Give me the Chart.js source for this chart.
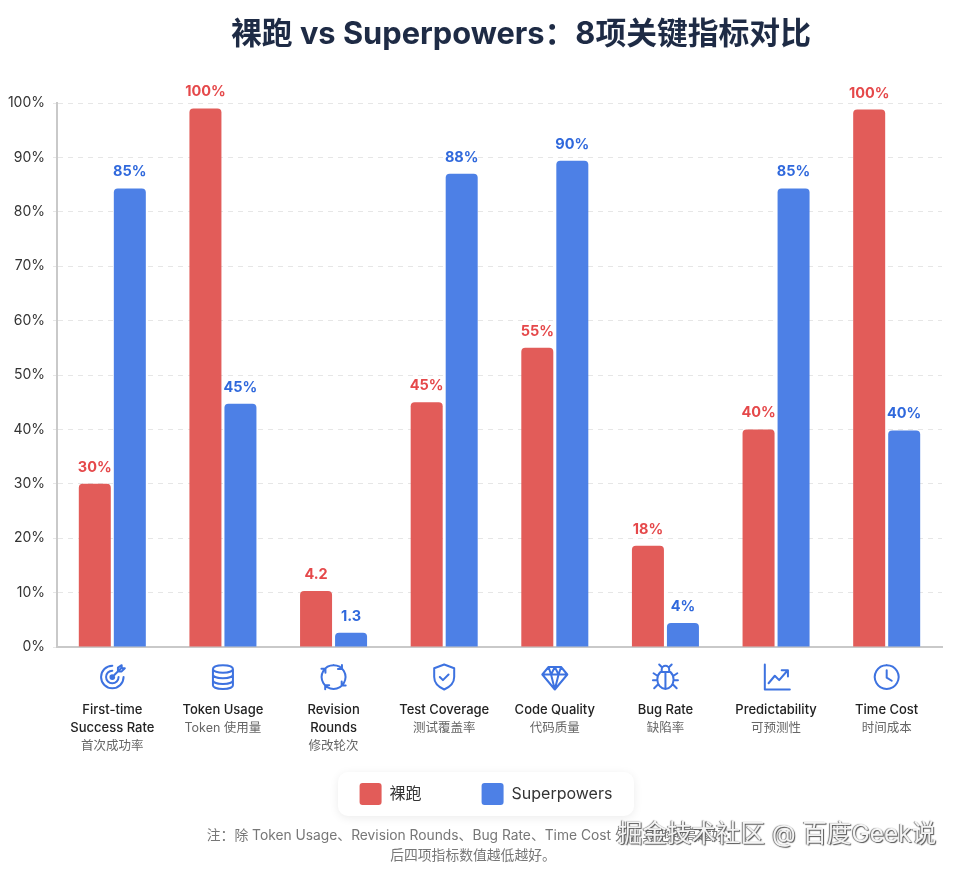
<!DOCTYPE html>
<html>
<head>
<meta charset="utf-8">
<script src="https://cdn.jsdelivr.net/npm/chart.js@4"></script>
<style>
  html, body { margin: 0; padding: 0; background: #fff; }
  #wrap { position: relative; width: 960px; height: 872px; overflow: hidden; font-family: Inter, "Noto Sans CJK SC", sans-serif; }
  canvas { position: absolute; left: 0; top: 0; }
  h1 { position: absolute; left: 0; width: 1042px; top: 13px; margin: 0; text-align: center; font-size: 30.8px; line-height: 40px; font-weight: 700; color: #1e2b45; }
  #note { position: absolute; left: 0; width: 946px; top: 825px; text-align: center; font-size: 13.8px; line-height: 20px; color: #777; }
  #mark { position: absolute; left: 618px; top: 817px; font-size: 24.5px; line-height: 32px; color: #f4f4f4; text-shadow: 1px 1px 1px #555, -1px 0 1px #777; white-space: nowrap; }
</style>
</head>
<body>
<div id="wrap">
  <canvas id="chart" width="960" height="872"></canvas>
  <h1>裸跑 vs Superpowers：8项关键指标对比</h1>
  <div id="note">注：除 Token Usage、Revision Rounds、Bug Rate、Time Cost 外，其他越高越好；<br>后四项指标数值越低越好。</div>
  <div id="mark">掘金技术社区 @ 百度Geek说</div>
</div>
<script>
const categoriesEn = [
    ['First-time', 'Success Rate'],
    ['Token Usage'],
    ['Revision', 'Rounds'],
    ['Test Coverage'],
    ['Code Quality'],
    ['Bug Rate'],
    ['Predictability'],
    ['Time Cost']
];
const categoriesZh = ['首次成功率', 'Token 使用量', '修改轮次', '测试覆盖率', '代码质量', '缺陷率', '可预测性', '时间成本'];

// bar heights as drawn, the printed labels differ for some (4.2 rounds etc)
const luopaoValues = [30, 99, 10.3, 45, 55, 18.6, 40, 98.8];
const superValues = [84.3, 44.7, 2.6, 87, 89.4, 4.4, 84.3, 39.8];
const luopaoLabels = ['30%', '100%', '4.2', '45%', '55%', '18%', '40%', '100%'];
const superLabels = ['85%', '45%', '1.3', '88%', '90%', '4%', '85%', '40%'];
const yTicks = [0, 10, 20, 30, 40, 50, 60, 70, 80, 90, 100];

const RED = '#e25c59';
const BLUE = '#4d80e6';
const FONT = 'Inter, "Noto Sans CJK SC", sans-serif';

// 24x24 icons under the axis
const iconPaths = [
    'M12 3a9 9 0 1 0 9 9M12 7a5 5 0 1 0 5 5M12 10.500a1.500 1.500 0 1 0 1.500 1.500M12 12l7-7M16.500 4.500v3h3l2.500-2.500h-2.500V2.500z',
    'M4 5.500c0-4 16-4 16 0s-16 4-16 0M4 5.500v13c0 4 16 4 16 0v-13M4 10c0 4 16 4 16 0M4 14.500c0 4 16 4 16 0',
    'M12 2.500a9.500 9.500 0 1 0 .01 0M15.500 5.500h3.200V2.300M18.500 15.500v3.200h3.200M8.500 18.500H5.300v3.200M5.500 8.500V5.300H2.300',
    'M12 2l8 3v7c0 5-3.500 8-8 10c-4.500-2-8-5-8-10V5zM8.500 12l2.500 2.500 4.500-4.500',
    'M7 4h10l5 6-10 12L2 10zM2 10h20M9 10l3 12 3-12M7 4l2 6 3-6 3 6 2-6',
    'M8 8h8c2 2 2.500 4 2.500 6a6.500 7.500 0 0 1-13 0c0-2 .5-4 2.500-6zM12 8v13.500M9 8V6a3 3 0 0 1 6 0v2M9 4L7 2M15 4l2-2M5.500 11L2.500 9M18.500 11l3-2M5.500 14.500h-3.500M18.500 14.500h3.500M6 18l-3 3M18 18l3 3',
    'M3 2v20h20M6 17l5-6 3.500 3.500L21 7M16.500 6.500H21.500V11.500',
    'M12 2.500a9.500 9.500 0 1 0 .01 0M12 6.500v6l4 2.500'
].map(d => new Path2D(d));

// legend sits a bit right of the canvas middle, with a soft card behind it
const legendCard = {
    id: 'legendCard',
    afterLayout(chart) {
        chart.legend.left += 15;
        chart.legend.right += 15;
    },
    beforeDraw(chart) {
        const lg = chart.legend;
        const ctx = chart.ctx;
        const cy = lg.top + lg.options.labels.padding + 11;
        ctx.save();
        ctx.shadowColor = 'rgba(0,0,0,0.08)';
        ctx.shadowBlur = 10;
        ctx.shadowOffsetY = 2;
        ctx.fillStyle = '#fff';
        ctx.beginPath();
        ctx.roundRect(338, cy - 22, 296, 44, 10);
        ctx.fill();
        ctx.restore();
    }
};

// value labels above bars
const barLabels = {
    id: 'barLabels',
    afterDatasetsDraw(chart) {
        const ctx = chart.ctx;
        ctx.save();
        ctx.textAlign = 'center';
        ctx.textBaseline = 'alphabetic';
        ctx.font = '700 14.5px ' + FONT;
        [[0, luopaoLabels, '#e5484a'], [1, superLabels, '#2f68dc']].forEach(([idx, labels, color]) => {
            ctx.fillStyle = color;
            chart.getDatasetMeta(idx).data.forEach((bar, i) => {
                ctx.fillText(labels[i], bar.x, bar.y - 12);
            });
        });
        ctx.restore();
    }
};

// icon + english + chinese under every category
const categoryLabels = {
    id: 'categoryLabels',
    afterDraw(chart) {
        const ctx = chart.ctx;
        const xScale = chart.scales.x;
        ctx.save();
        ctx.textAlign = 'center';
        ctx.textBaseline = 'middle';
        categoriesEn.forEach((lines, i) => {
            const x = xScale.getPixelForTick(i);
            ctx.save();
            ctx.translate(x - 15, 662);
            ctx.scale(1.25, 1.25);
            ctx.strokeStyle = '#3d72e0';
            ctx.lineWidth = 1.6;
            ctx.lineJoin = 'round';
            ctx.lineCap = 'round';
            ctx.stroke(iconPaths[i]);
            ctx.restore();

            let y = 710;
            ctx.font = '500 13px ' + FONT;
            ctx.fillStyle = '#222';
            lines.forEach(line => {
                ctx.fillText(line, x, y);
                y += 18;
            });
            ctx.font = '400 12.5px ' + FONT;
            ctx.fillStyle = '#666';
            ctx.fillText(categoriesZh[i], x, y);
        });
        ctx.restore();
    }
};

new Chart(document.getElementById('chart'), {
    type: 'bar',
    data: {
        labels: categoriesEn.map(l => l.join(' ')),
        datasets: [
            { label: '裸跑', data: luopaoValues, backgroundColor: RED, borderRadius: 4 },
            { label: 'Superpowers', data: superValues, backgroundColor: BLUE, borderRadius: 4 }
        ]
    },
    options: {
        responsive: false,
        animation: false,
        devicePixelRatio: 1,
        categoryPercentage: 0.633,
        barPercentage: 0.914,
        layout: { padding: { top: 103, left: 0, right: 18, bottom: 57 } },
        plugins: {
            tooltip: { enabled: false },
            legend: {
                position: 'bottom',
                labels: {
                    boxWidth: 22,
                    boxHeight: 22,
                    useBorderRadius: true,
                    borderRadius: 3,
                    padding: 60,
                    color: '#333',
                    font: { family: FONT, size: 16 }
                }
            }
        },
        scales: {
            x: {
                grid: { display: false },
                border: { color: '#c9c9c9', width: 2 },
                ticks: { display: false },
                afterFit(scale) { scale.height = 76; }
            },
            y: {
                min: 0,
                max: 100,
                afterFit(scale) { scale.width = 57; },
                afterBuildTicks(scale) { scale.ticks = yTicks.map(v => ({ value: v })); },
                grid: { color: '#e6e6e6', tickLength: 4 },
                border: { color: '#c9c9c9', width: 2, dash: [5, 5] },
                ticks: {
                    color: '#333',
                    padding: 8,
                    font: { family: FONT, size: 14 },
                    callback: v => v + '%'
                }
            }
        }
    },
    plugins: [legendCard, barLabels, categoryLabels]
});
</script>
</body>
</html>
